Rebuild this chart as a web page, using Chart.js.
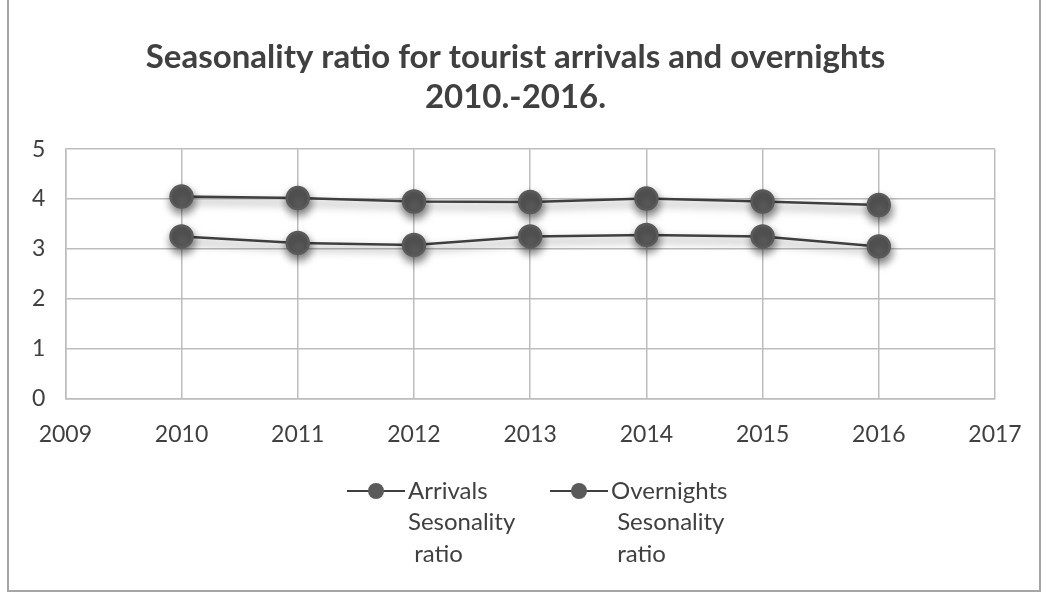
<!DOCTYPE html>
<html>
<head>
<meta charset="utf-8">
<script src="https://cdn.jsdelivr.net/npm/chart.js@4.4.0/dist/chart.umd.min.js"></script>
<style>
  html, body { margin: 0; padding: 0; background: #fff; }
  #box {
    position: absolute; left: 7px; top: -2px; width: 1034px; height: 594px;
    border: 2px solid #a6a6a6; box-sizing: border-box; background: #fff;
  }
  #box canvas { display: block; }
</style>
</head>
<body>
<div id="box"><canvas id="seasonChart" width="1030" height="590"></canvas></div>
<script>
// values
var years = [2010, 2011, 2012, 2013, 2014, 2015, 2016];
var arrivals = [3.25, 3.12, 3.08, 3.25, 3.28, 3.25, 3.05];
var overnights = [4.05, 4.02, 3.95, 3.94, 4.01, 3.95, 3.88];
var xTicks = [2009, 2010, 2011, 2012, 2013, 2014, 2015, 2016, 2017];
var yTicks = [0, 1, 2, 3, 4, 5];
var titleLines = ['Seasonality ratio for tourist arrivals and overnights', '2010.-2016.'];
var legendLabels = [
    ['Arrivals', 'Sesonality', ' ratio'],
    ['Overnights', ' Sesonality', ' ratio']
];

function toPoints(values) {
    var pts = [];
    for (var i = 0; i < years.length; i++) {
        pts.push({x: years[i], y: values[i]});
    }
    return pts;
}

var FONT = 'Lato, "Open Sans", sans-serif';
var markerColor = '#5a5a5a';
var lineColor = '#3f3f3f';

// soft grey shadow under the lines, like the office chart
var shadowPlugin = {
    id: 'shadow',
    beforeDatasetsDraw: function (chart) {
        var ctx = chart.ctx;
        ctx.save();
        ctx.shadowColor = 'rgba(0,0,0,0.5)';
        ctx.shadowBlur = 9;
        ctx.shadowOffsetX = 1;
        ctx.shadowOffsetY = 5;
    },
    afterDatasetsDraw: function (chart) {
        chart.ctx.restore();
    }
};

// legend with several text lines per item
var multiLegend = {
    id: 'multiLegend',
    afterDraw: function (chart) {
        var ctx = chart.ctx;
        var starts = [338, 541];
        var top = 491;
        ctx.save();
        ctx.font = '24px ' + FONT;
        ctx.textBaseline = 'middle';
        chart.data.datasets.forEach(function (ds, i) {
            var x0 = starts[i];
            ctx.strokeStyle = lineColor;
            ctx.lineWidth = 2;
            ctx.beginPath();
            ctx.moveTo(x0, top);
            ctx.lineTo(x0 + 58, top);
            ctx.stroke();
            ctx.fillStyle = markerColor;
            ctx.beginPath();
            ctx.arc(x0 + 29, top, 8, 0, Math.PI * 2);
            ctx.fill();
            ctx.fillStyle = '#404040';
            var lines = legendLabels[i];
            for (var j = 0; j < lines.length; j++) {
                ctx.fillText(lines[j], x0 + 61, top + j * 31.5);
            }
        });
        ctx.restore();
    }
};

var ctx = document.getElementById('seasonChart');
var seasonChart = new Chart(ctx, {
    type: 'line',
    data: {
        datasets: [{
            label: legendLabels[0].join(' '),
            data: toPoints(arrivals),
            borderColor: lineColor,
            borderWidth: 2.5,
            pointBackgroundColor: markerColor,
            pointBorderColor: markerColor,
            pointRadius: 11,
            tension: 0
        }, {
            label: legendLabels[1].join(' '),
            data: toPoints(overnights),
            borderColor: lineColor,
            borderWidth: 2.5,
            pointBackgroundColor: markerColor,
            pointBorderColor: markerColor,
            pointRadius: 11,
            tension: 0
        }]
    },
    options: {
        responsive: false,
        animation: false,
        layout: {
            padding: {left: 3, right: 20, top: 8, bottom: 120}
        },
        plugins: {
            legend: {display: false},
            tooltip: {enabled: false},
            title: {
                display: true,
                text: titleLines,
                color: '#404040',
                font: {family: FONT, size: 33, weight: 'bold', lineHeight: 1.2},
                padding: {top: 30, bottom: 32}
            }
        },
        scales: {
            x: {
                type: 'linear',
                min: xTicks[0],
                max: xTicks[xTicks.length - 1],
                afterBuildTicks: function (axis) {
                    axis.ticks = xTicks.map(function (v) { return {value: v}; });
                },
                afterFit: function (axis) {
                    // leave a little less room for the last label
                    axis.paddingRight = 44;
                },
                ticks: {
                    color: '#404040',
                    font: {family: FONT, size: 23},
                    padding: 22,
                    maxRotation: 0,
                    callback: function (v) { return String(v); }
                },
                grid: {color: '#bdbdbd', lineWidth: 1.5, drawTicks: false},
                border: {color: '#bdbdbd', width: 1.5}
            },
            y: {
                min: yTicks[0],
                max: yTicks[yTicks.length - 1],
                afterBuildTicks: function (axis) {
                    axis.ticks = yTicks.map(function (v) { return {value: v}; });
                },
                ticks: {
                    color: '#404040',
                    font: {family: FONT, size: 23},
                    padding: 20
                },
                grid: {color: '#bdbdbd', lineWidth: 1.5, drawTicks: false},
                border: {color: '#bdbdbd', width: 1.5}
            }
        }
    },
    plugins: [shadowPlugin, multiLegend]
});
</script>
</body>
</html>
